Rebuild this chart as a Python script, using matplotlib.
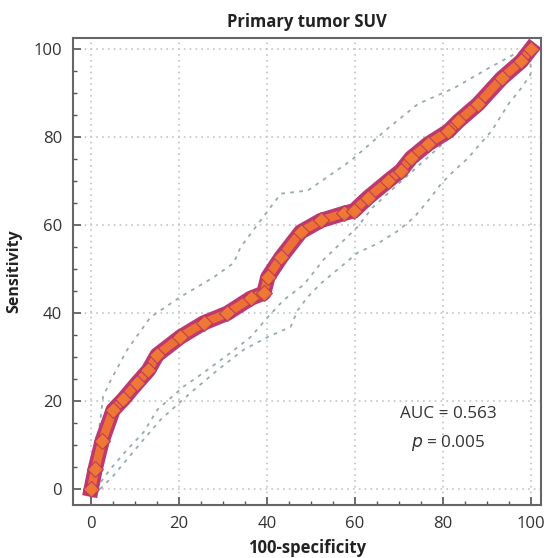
import matplotlib
matplotlib.use('Agg')
import matplotlib.pyplot as plt
import matplotlib.patheffects as pe
from matplotlib.ticker import MultipleLocator

plt.rcParams['font.family'] = ['Open Sans', 'DejaVu Sans']

# ROC curve (100-specificity, sensitivity)
roc_x = [0, 0.9, 2.5, 5, 7.3, 10.5, 13, 15, 20.3, 25.6, 31, 36.3, 39.3, 40.2, 43.2,
         47.7, 52.3, 57.5, 59.8, 63, 67.6, 70.5, 72.8, 76.7, 81.3, 83.6, 88.1, 93.4, 97.9, 100]
roc_y = [0, 4.5, 11, 18, 20.4, 24.2, 27, 30.5, 34.6, 37.8, 40, 43.4, 44.6, 48.2, 52.7,
         58.5, 61.1, 62.7, 63.3, 66.3, 70.1, 72.4, 75.3, 78.5, 81.4, 83.7, 87.6, 93.4, 97.3, 100]

# upper confidence bound
up_x = [0, 0.5, 2, 2.7, 4.3, 8.2, 13.5, 20.3, 27.9, 32.4, 34, 40.2, 43.2, 49.3, 59.1,
        67.6, 74.4, 82.6, 90.4, 96.3, 100]
up_y = [0, 6.5, 15, 21, 24.5, 31.7, 39.1, 43.7, 48.2, 51.4, 55, 63.3, 67.2, 67.9, 74.7,
        82.1, 87.6, 91.2, 95.7, 98.9, 100]

# inner lower bound
lo1_x = [1, 4.3, 8.2, 11.9, 15.1, 21, 25.6, 31.7, 36.3, 40.2, 43.8, 48.4, 53, 57.5, 60.5,
         64, 70, 80, 90, 100]
lo1_y = [0, 4.5, 9, 12.9, 18.1, 23.3, 26.5, 31, 34.6, 39.1, 43, 46.5, 52.3, 56.6, 59.5,
         64, 69.5, 78.5, 88, 99]

# outer lower bound
lo2_x = [2, 5, 10, 15.8, 22.6, 28.8, 34.7, 40.2, 45.4, 47, 49.3, 52.3, 60.7, 65.3, 69.9,
         73.5, 76.7, 79.7, 82.6, 85.8, 88.1, 91.1, 95, 97.9, 100, 100]
lo2_y = [0, 3, 9, 15.8, 21.9, 27.1, 31.7, 34.6, 36.9, 40.7, 43.7, 46.8, 53.8, 55.9, 58.8,
         61.8, 65.6, 69.5, 72.4, 75.3, 78, 81.4, 87.6, 91.2, 94.3, 100]

ticks = [0, 20, 40, 60, 80, 100]

fig = plt.figure(figsize=(5.46, 5.58), dpi=100)
ax = fig.add_axes([0.134, 0.095, 0.857, 0.837])

ax.set_xlim(-4.1, 102.4)
ax.set_ylim(-3.6, 102.6)

for t in ticks:
    ax.axvline(t, color='#c4c4c4', lw=1.2, ls=(0, (1, 2.5)), zorder=0)
    ax.axhline(t, color='#c4c4c4', lw=1.2, ls=(0, (1, 2.5)), zorder=0)

ci_style = dict(color='#97abae', lw=1.3, ls=(0, (2, 3)), zorder=2)
ax.plot(up_x, up_y, **ci_style)
ax.plot(lo1_x, lo1_y, **ci_style)
ax.plot(lo2_x, lo2_y, **ci_style)

ax.plot(roc_x, roc_y, color='#ef7034', lw=6, solid_joinstyle='round', zorder=3,
        path_effects=[pe.Stroke(linewidth=11, foreground='#bc3a70'), pe.Normal()])
ax.plot(roc_x, roc_y, ls='none', marker='D', ms=8, mfc='#f07a36', mec='#b23462',
        mew=0.8, alpha=0.85, zorder=4)

ax.text(81.3, 17, 'AUC = 0.563', ha='center', va='center', fontsize=12.3, color='#333333')
ax.text(81.3, 10.6, '$p$ = 0.005', ha='center', va='center', fontsize=12.3, color='#333333')

ax.set_xticks(ticks)
ax.set_yticks(ticks)
ax.xaxis.set_minor_locator(MultipleLocator(5))
ax.yaxis.set_minor_locator(MultipleLocator(5))
ax.tick_params(which='major', direction='in', length=6, width=1.2, color='#555555',
               labelsize=12, labelcolor='#333333', pad=8)
ax.tick_params(which='minor', direction='in', length=3, width=1, color='#555555')

for s in ax.spines.values():
    s.set_color('#666666')
    s.set_linewidth(1.5)

ax.set_title('Primary tumor SUV', fontsize=12, fontweight='bold', color='#222222', pad=8)
ax.set_xlabel('100-specificity', fontsize=12, fontweight='bold', color='#222222', labelpad=5)
ax.set_ylabel('Sensitivity', fontsize=11.5, fontweight='bold', color='#222222', labelpad=8)

fig.savefig('out.png', dpi=100)
